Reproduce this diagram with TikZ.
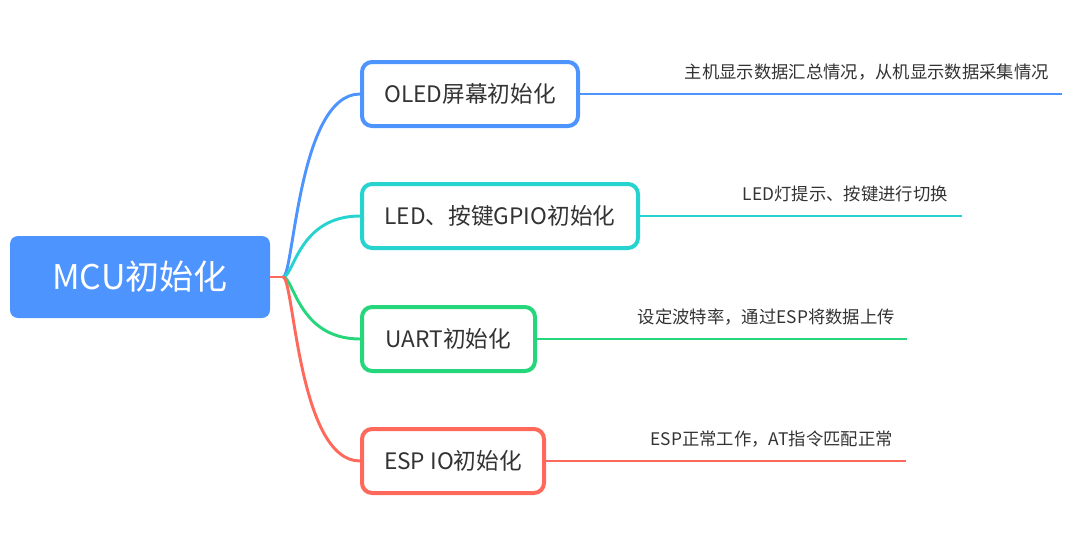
\documentclass[tikz,border=0pt]{standalone}
\usepackage{fontspec}
\setmainfont{Noto Sans CJK SC}
\usetikzlibrary{positioning}

\definecolor{mapblue}{HTML}{4E94FF}
\definecolor{mapcyan}{HTML}{27D3CF}
\definecolor{mapgreen}{HTML}{26D67A}
\definecolor{mapred}{HTML}{FF695C}
\definecolor{maptext}{HTML}{333333}

\begin{document}
\begin{tikzpicture}[
    x=0.75pt, y=-0.75pt,
    every node/.style={text=maptext},
    root/.style={fill=mapblue, rounded corners=6pt, minimum width=195pt, minimum height=61.5pt,
                 font=\fontsize{25.5}{30}\selectfont, text=white},
    topic/.style={draw=#1, line width=3pt, fill=white, rounded corners=7.5pt,
                  minimum height=48pt, font=\fontsize{17}{20}\selectfont},
    branch/.style={draw=#1, line width=2.2pt},
    note/.style={anchor=east, inner sep=0pt, font=\fontsize{13}{16}\selectfont}
]
\useasboundingbox (0,0) rectangle (1087,539);

% Central topic
\node[root] (mcu) at (140,277) {MCU初始化};
\coordinate (hub) at (283,277);

% Sub topics
\node[topic=mapblue, minimum width=162pt] (oled) at (470,94) {OLED屏幕初始化};
\node[topic=mapcyan, minimum width=207pt] (led) at (500,216) {LED、按键GPIO初始化};
\node[topic=mapgreen, minimum width=129.75pt] (uart) at (448.5,339) {UART初始化};
\node[topic=mapred, minimum width=136.5pt] (esp) at (453,461) {ESP IO初始化};

% Ends of the note lines
\coordinate (oledend) at (1062,94);
\coordinate (ledend) at (962,216);
\coordinate (uartend) at (907,339);
\coordinate (espend) at (906,461);

% Notes
\node[note] (oledtxt) at (1049,72) {主机显示数据汇总情况，从机显示数据采集情况};
\node[note] (ledtxt) at (948,194) {LED灯提示、按键进行切换};
\node[note] (uarttxt) at (895,317) {设定波特率，通过ESP将数据上传};
\node[note] (esptxt) at (893,439) {ESP正常工作，AT指令匹配正常};

% Curved branches
\draw[branch=mapblue] (hub) .. controls (294,277) and (298,94) .. (oled.west);
\draw[branch=mapcyan] (hub) .. controls (294,277) and (298,216) .. (led.west);
\draw[branch=mapgreen] (hub) .. controls (294,277) and (298,339) .. (uart.west);
\draw[branch=mapred] (hub) .. controls (294,277) and (298,461) .. (esp.west);
\draw[branch=mapred] (mcu.east) -- (hub);

% Note lines
\draw[branch=mapblue] (oled.east) -- (oledend);
\draw[branch=mapcyan] (led.east) -- (ledend);
\draw[branch=mapgreen] (uart.east) -- (uartend);
\draw[branch=mapred] (esp.east) -- (espend);

\end{tikzpicture}
\end{document}
